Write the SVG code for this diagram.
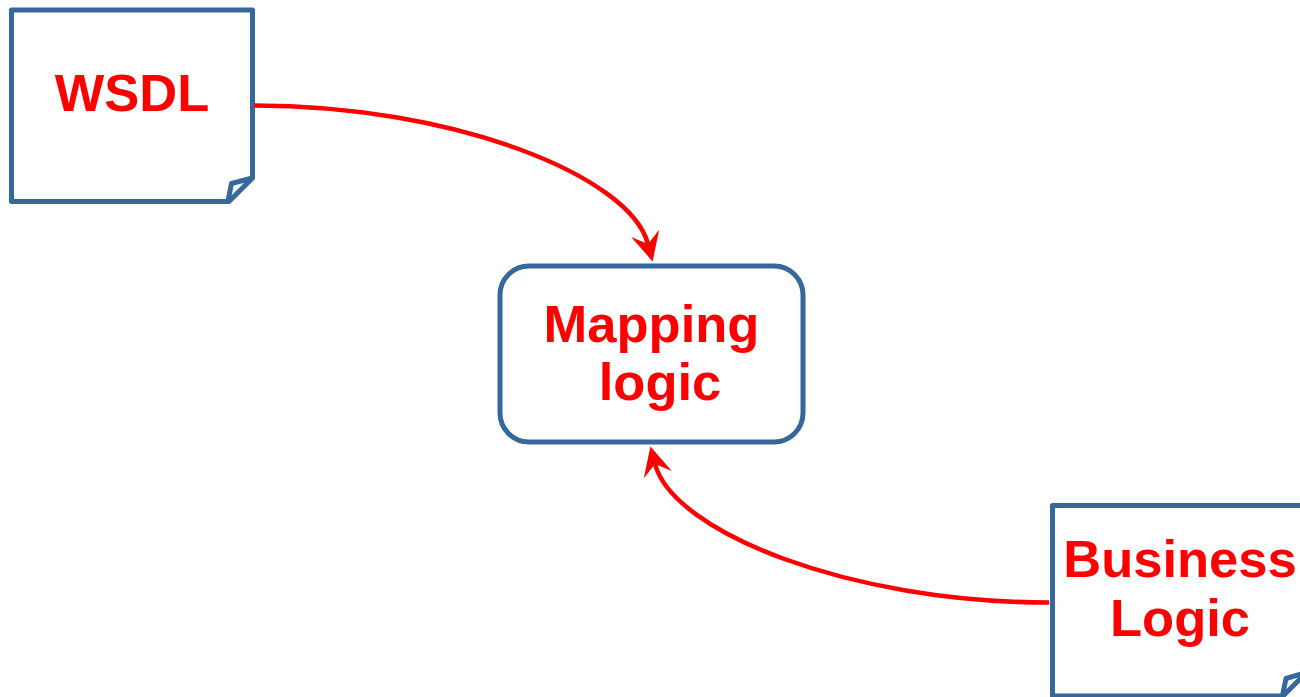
<svg xmlns="http://www.w3.org/2000/svg" width="1300" height="697" viewBox="0 0 1300 697">
<style>
.box{fill:#fff;stroke:#35689B;stroke-width:5;stroke-linejoin:round}
.fold{fill:none;stroke:#35689B;stroke-width:5;stroke-linejoin:round}
.lbl{font-family:"Liberation Sans",Arial,sans-serif;font-weight:bold;font-size:52.5px;fill:#FF0000;text-anchor:middle}
.conn{fill:none;stroke:#FF0000;stroke-width:4.5}
</style>
<defs>
<marker id="arr" markerUnits="userSpaceOnUse" viewBox="-31 -16 33 32" markerWidth="33" markerHeight="32" refX="-18" refY="0" orient="auto">
<path d="M0,0 L-29,-14.5 L-18,0 L-29,14.5 Z" fill="#FF0000"/>
</marker>
</defs>
<rect width="1300" height="697" fill="#fff"/>
<g id="wsdl">
<path class="box" d="M11.5,10 H252.5 V178 L229,201.5 H11.5 Z"/>
<path class="fold" d="M252.5,178 L231.5,183.5 L228,201"/>
<text class="lbl" x="132" y="110.5">WSDL</text>
</g>
<g id="mapping">
<rect class="box" x="500" y="266" width="303" height="176" rx="29" ry="29"/>
<text class="lbl" x="651.5" y="342">Mapping</text>
<text class="lbl" x="660" y="400">logic</text>
</g>
<g id="business">
<path class="box" d="M1052.5,505.5 H1306.5 V672.5 L1283,696 H1052.5 Z"/>
<path class="fold" d="M1306.5,672.5 L1286,678.5 L1282.5,695.5"/>
<text class="lbl" x="1180" y="577">Business</text>
<text class="lbl" x="1180" y="636">Logic</text>
</g>
<g id="connectors">
<path class="conn" d="M254,105.5 C454,105.5 630,176 648,244" marker-end="url(#arr)"/>
<path class="conn" d="M1049,602.5 C849,602.5 673,532 655,464" marker-end="url(#arr)"/>
</g>
</svg>
